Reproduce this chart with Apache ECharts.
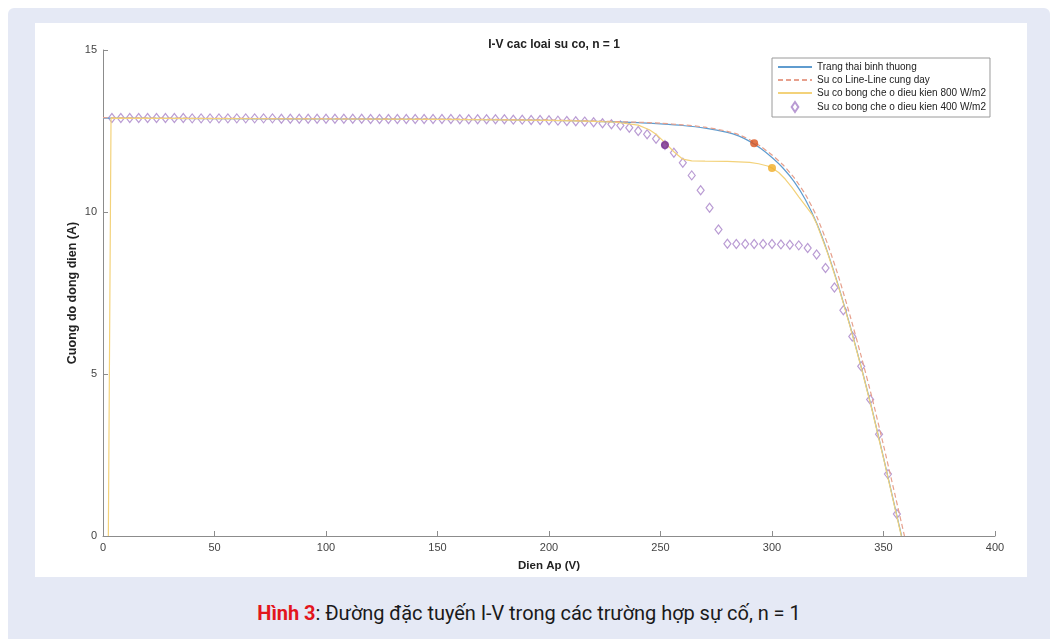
<!DOCTYPE html>
<html>
<head>
<meta charset="utf-8">
<script src="https://cdn.jsdelivr.net/npm/echarts@6/dist/echarts.min.js"></script>
<style>
  html, body { margin: 0; padding: 0; background: #ffffff; }
  #frame {
    position: absolute; left: 8px; top: 8px; width: 1042px; height: 640px;
    background: #e5e9f5; border-radius: 6px;
  }
  #panel {
    position: absolute; left: 27px; top: 15px; width: 992px; height: 554px;
    background: #ffffff;
  }
  #chart { width: 992px; height: 554px; }
  #caption {
    position: absolute; left: 0; width: 1042px; top: 593px; text-align: center;
    font-family: Roboto, "Noto Sans", sans-serif; font-size: 20px; color: #1a1a1a;
    letter-spacing: -0.05px;
  }
  #caption b { color: #e3161d; }
</style>
</head>
<body>
<div id="frame">
  <div id="panel"><div id="chart"></div></div>
  <div id="caption"><b>Hình 3</b>: Đường đặc tuyến I-V trong các trường hợp sự cố, n = 1</div>
</div>
<script>
// ---------------------------------------------
// Data (V in volts, I in amps)
// ---------------------------------------------
var normalV = [0, 50, 100, 150, 200, 220, 240, 250, 260, 270, 280, 285, 290, 295, 300, 305, 310, 315, 320, 325, 330, 335, 340, 345, 350, 355, 358.1];
var normalI = [12.90, 12.88, 12.87, 12.86, 12.83, 12.80, 12.76, 12.72, 12.67, 12.59, 12.46, 12.35, 12.18, 11.96, 11.68, 11.35, 10.93, 10.38, 9.66, 8.74, 7.67, 6.49, 5.22, 3.87, 2.42, 0.92, 0];

var lineLineV = [0, 50, 100, 150, 200, 220, 240, 250, 260, 270, 280, 285, 290, 295, 300, 305, 310, 315, 320, 325, 330, 335, 340, 345, 350, 355, 359.4];
var lineLineI = [12.91, 12.89, 12.88, 12.87, 12.84, 12.81, 12.77, 12.74, 12.69, 12.62, 12.49, 12.39, 12.23, 12.02, 11.76, 11.45, 11.05, 10.54, 9.87, 9.00, 7.97, 6.80, 5.55, 4.23, 2.80, 1.32, 0];

var shade800V = [2.4, 3.6, 50, 100, 150, 200, 220, 230, 240, 245, 248, 252, 256, 260, 264, 270, 280, 290, 294, 298, 300, 303, 306, 309, 312, 315, 318, 320, 325, 330, 335, 340, 345, 350, 355, 358.0];
var shade800I = [0, 12.90, 12.88, 12.87, 12.86, 12.83, 12.80, 12.77, 12.68, 12.54, 12.40, 12.14, 11.86, 11.63, 11.58, 11.57, 11.56, 11.53, 11.49, 11.42, 11.36, 11.22, 11.01, 10.75, 10.47, 10.20, 9.92, 9.64, 8.72, 7.65, 6.47, 5.20, 3.85, 2.40, 0.90, 0];

var shade400V = [4, 8, 12, 16, 20, 24, 28, 32, 36, 40, 44, 48, 52, 56, 60, 64, 68, 72, 76, 80, 84, 88, 92, 96, 100,
  104, 108, 112, 116, 120, 124, 128, 132, 136, 140, 144, 148, 152, 156, 160, 164, 168, 172, 176, 180, 184, 188, 192, 196, 200,
  204, 208, 212, 216, 220, 224, 228, 232, 236, 240, 244, 248, 252, 256, 260, 264, 268, 272, 276, 280, 284, 288, 292, 296, 300,
  304, 308, 312, 316, 320, 324, 328, 332, 336, 340, 344, 348, 352, 356];
var shade400I = [12.90, 12.90, 12.90, 12.90, 12.90, 12.90, 12.90, 12.90, 12.90, 12.89, 12.89, 12.89, 12.89, 12.89, 12.89, 12.89, 12.89, 12.89, 12.89, 12.88, 12.88, 12.88, 12.88, 12.88, 12.88,
  12.88, 12.88, 12.88, 12.88, 12.87, 12.87, 12.87, 12.87, 12.87, 12.87, 12.87, 12.87, 12.87, 12.87, 12.86, 12.86, 12.86, 12.86, 12.86, 12.86, 12.85, 12.85, 12.84, 12.84, 12.83,
  12.82, 12.81, 12.80, 12.79, 12.77, 12.74, 12.71, 12.67, 12.60, 12.50, 12.40, 12.26, 12.07, 11.83, 11.52, 11.13, 10.67, 10.13, 9.46, 9.02, 9.01, 9.01, 9.01, 9.01, 9.01,
  9.00, 8.99, 8.97, 8.89, 8.69, 8.27, 7.67, 6.97, 6.16, 5.24, 4.21, 3.14, 1.91, 0.68];

// maximum power points
var mppNormal = [292, 12.12];
var mpp800 = [300, 11.36];
var mpp400 = [252, 12.07];

var xTicks = { min: 0, max: 400, interval: 50 };
var yTicks = { min: 0, max: 15, interval: 5 };

var legendNames = ['Trang thai binh thuong', 'Su co Line-Line cung day',
  'Su co bong che o dieu kien 800 W/m2', 'Su co bong che o dieu kien 400 W/m2'];

function pairs(xs, ys) {
  return xs.map(function (x, i) { return [x, ys[i]]; });
}

var axisGray = '#8c8c8c';
var font = 'Liberation Sans, Arial, sans-serif';
var labelFont = { color: '#444', fontSize: 11, fontFamily: font };

var chart = echarts.init(document.getElementById('chart'), null, { renderer: 'canvas' });

chart.setOption({
  animation: false,
  title: {
    text: 'I-V cac loai su co, n = 1',
    left: 514, top: 11, textAlign: 'center',
    textStyle: { fontSize: 12, fontWeight: 'bold', color: '#222', fontFamily: font }
  },
  grid: { left: 68, right: 32, top: 27, bottom: 38 },
  legend: {
    orient: 'vertical',
    left: 737, top: 35,
    padding: [4, 4, 4, 5],
    itemGap: 3,
    itemWidth: 34, itemHeight: 10,
    backgroundColor: '#fff',
    borderColor: '#9a9a9a', borderWidth: 1, borderRadius: 0,
    textStyle: { fontSize: 10, color: '#222', fontFamily: font },
    data: [
      { name: legendNames[0], itemStyle: { opacity: 0 } },
      { name: legendNames[1], itemStyle: { opacity: 0 } },
      { name: legendNames[2], itemStyle: { opacity: 0 } },
      { name: legendNames[3], icon: 'path://M5,0 L9,6 L5,12 L1,6 Z' }
    ]
  },
  xAxis: {
    type: 'value', min: xTicks.min, max: xTicks.max, interval: xTicks.interval,
    name: 'Dien Ap (V)', nameLocation: 'middle', nameGap: 24,
    nameTextStyle: { fontSize: 11.5, fontWeight: 'bold', color: '#222', fontFamily: font },
    axisLine: { lineStyle: { color: axisGray, width: 1 } },
    axisTick: { inside: true, length: 5, lineStyle: { color: axisGray } },
    axisLabel: Object.assign({ margin: 6 }, labelFont),
    splitLine: { show: false }
  },
  yAxis: {
    type: 'value', min: yTicks.min, max: yTicks.max, interval: yTicks.interval,
    name: 'Cuong do dong dien (A)', nameLocation: 'middle', nameGap: 24, nameRotate: 90,
    nameMoveOverlap: false,
    nameTextStyle: { fontSize: 12.5, fontWeight: 'bold', color: '#222', fontFamily: font },
    axisLine: { show: true, lineStyle: { color: axisGray, width: 1 } },
    axisTick: { show: true, inside: true, length: 5, lineStyle: { color: axisGray } },
    axisLabel: Object.assign({ margin: 6 }, labelFont),
    splitLine: { show: false }
  },
  series: [
    {
      name: legendNames[0], type: 'line', symbol: 'none',
      data: pairs(normalV, normalI), smooth: 0.2,
      lineStyle: { color: '#5f9ccf', width: 1.2 }, itemStyle: { color: '#5f9ccf' }
    },
    {
      name: legendNames[1], type: 'line', symbol: 'none',
      data: pairs(lineLineV, lineLineI), smooth: 0.2,
      lineStyle: { color: '#e7a08d', width: 1.2, type: [5, 3] }, itemStyle: { color: '#e7a08d' }
    },
    {
      name: legendNames[2], type: 'line', symbol: 'none',
      data: pairs(shade800V, shade800I),
      lineStyle: { color: '#f3d27a', width: 1.2 }, itemStyle: { color: '#f3d27a' }
    },
    {
      name: legendNames[3], type: 'scatter', symbol: 'diamond', symbolSize: [7, 9],
      data: pairs(shade400V, shade400I),
      itemStyle: { color: '#ffffff', borderColor: '#a782c8', borderWidth: 1.2 }
    },
    {
      name: 'mpp-normal', type: 'scatter', symbolSize: 8, z: 5,
      data: [mppNormal], itemStyle: { color: '#d9541e' }
    },
    {
      name: 'mpp-800', type: 'scatter', symbolSize: 8, z: 5,
      data: [mpp800], itemStyle: { color: '#f0ac26' }
    },
    {
      name: 'mpp-400', type: 'scatter', symbolSize: 8, z: 5,
      data: [mpp400], itemStyle: { color: '#74288c' }
    }
  ]
});
</script>
</body>
</html>
